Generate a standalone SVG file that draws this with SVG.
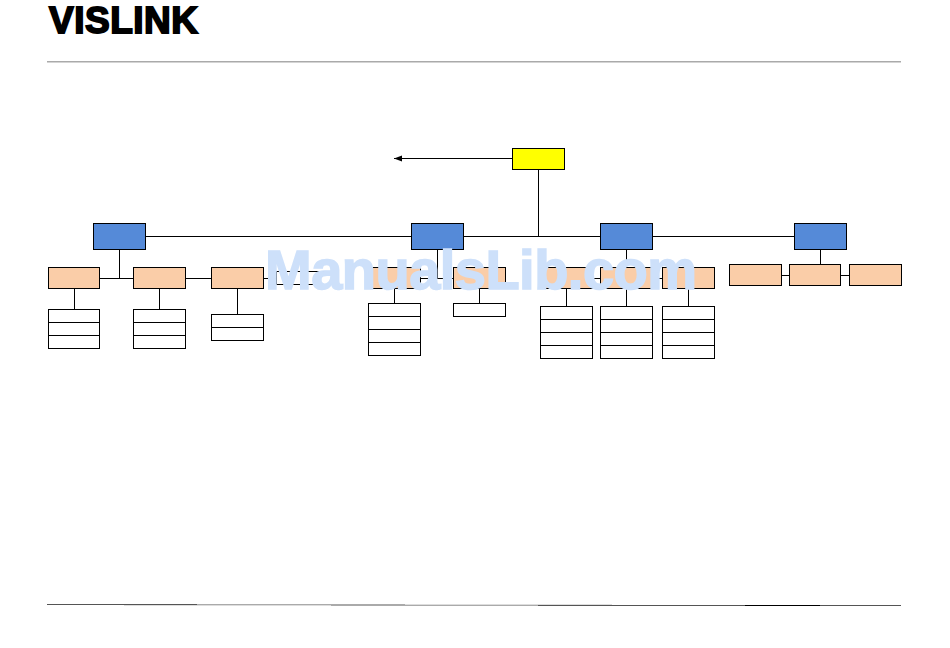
<svg xmlns="http://www.w3.org/2000/svg" width="950" height="648" viewBox="0 0 950 648">
<style>
rect.n{stroke:#000;stroke-width:1}
.top{fill:#ff0}.blue{fill:#558ad8}.or{fill:#facda8}.wh{fill:#fff}
#connectors path{fill:none;stroke:#000;stroke-width:1}
.logo{font-family:"Liberation Sans",Arial,sans-serif;font-weight:700;font-size:37px;fill:#000;stroke:#000;stroke-width:1.800}
.wm{font-family:"Liberation Sans",Arial,sans-serif;font-weight:700;font-size:56px;fill:#cde0fa;stroke:#cde0fa;stroke-width:1.500}
</style>
<defs>
<marker id="ah" markerUnits="userSpaceOnUse" markerWidth="9" markerHeight="7" refX="8" refY="3.5" orient="auto"><path d="M8 0.5L0 3.5L8 6.500Z" fill="#000" transform="rotate(180 4 3.500)"/></marker>
</defs>
<rect width="950" height="648" fill="#fff"/>
<text class="logo" x="49" y="32.500" textLength="149" lengthAdjust="spacing">VISLINK</text>
<rect x="47" y="61" width="854" height="1.500" fill="#aaa"/>
<g id="footer-rule">
<rect x="47" y="604" width="150" height="1" fill="#555"/>
<rect x="197" y="604" width="208" height="1" fill="#aaa"/>
<rect x="405" y="604" width="207" height="1" fill="#ddd"/>
<rect x="124" y="605" width="207" height="1" fill="#ddd"/>
<rect x="331" y="605" width="207" height="1" fill="#aaa"/>
<rect x="538" y="605" width="207" height="1" fill="#555"/>
<rect x="745" y="605" width="75" height="1" fill="#000"/>
<rect x="820" y="605" width="81" height="1" fill="#555"/>
</g>
<g id="connectors">
<path d="M512.500 158.500H394" marker-end="url(#ah)"/>
<path d="M538.500 169.500V236.500"/>
<path d="M145.500 236.500H794.500"/>
<path d="M119.500 249.500V278.500"/>
<path d="M99.500 278.500H133.500M185.500 278.500H211.500M263.500 278.500H276.500"/>
<path d="M327 271.500H276.500V284.500H315"/>
<path d="M74.500 288.500V309.500M159.500 288.500V309.500M237.500 288.500V314.500"/>
<path d="M437.500 249.500V278.500M420.500 278.500H453.500"/>
<path d="M394.500 288.500V303.500M479.500 288.500V303.500"/>
<path d="M626.500 249.500V267.500M592.500 278.500H600.500M652.500 278.500H662.500"/>
<path d="M566.500 288.500V306.500M626.500 288.500V306.500M688.500 288.500V306.500"/>
<path d="M820.500 249.500V264.500M781.500 275.500H789.500M840.500 275.500H849.500"/>
</g>
<g id="root"><rect class="n top" x="512.500" y="148.500" width="52" height="21"/></g>
<g id="blue-1"><rect class="n blue" x="93.500" y="223.500" width="52" height="26"/></g>
<g id="blue-2"><rect class="n blue" x="411.500" y="223.500" width="52" height="26"/></g>
<g id="blue-3"><rect class="n blue" x="600.500" y="223.500" width="52" height="26"/></g>
<g id="blue-4"><rect class="n blue" x="794.500" y="223.500" width="52" height="26"/></g>
<g id="orange-1"><rect class="n or" x="48.500" y="267.500" width="51" height="21"/></g>
<g id="orange-2"><rect class="n or" x="133.500" y="267.500" width="52" height="21"/></g>
<g id="orange-3"><rect class="n or" x="211.500" y="267.500" width="52" height="21"/></g>
<g id="orange-4"><rect class="n or" x="368.500" y="267.500" width="52" height="21"/></g>
<g id="orange-5"><rect class="n or" x="453.500" y="267.500" width="52" height="21"/></g>
<g id="orange-6"><rect class="n or" x="540.500" y="267.500" width="52" height="21"/></g>
<g id="orange-7"><rect class="n or" x="600.500" y="267.500" width="52" height="21"/></g>
<g id="orange-8"><rect class="n or" x="662.500" y="267.500" width="52" height="21"/></g>
<g id="orange-9"><rect class="n or" x="729.500" y="264.500" width="52" height="21"/></g>
<g id="orange-10"><rect class="n or" x="789.500" y="264.500" width="51" height="21"/></g>
<g id="orange-11"><rect class="n or" x="849.500" y="264.500" width="52" height="21"/></g>
<g id="list-1"><rect class="n wh" x="48.500" y="309.500" width="51" height="13"/><rect class="n wh" x="48.500" y="322.500" width="51" height="13"/><rect class="n wh" x="48.500" y="335.500" width="51" height="13"/></g>
<g id="list-2"><rect class="n wh" x="133.500" y="309.500" width="52" height="13"/><rect class="n wh" x="133.500" y="322.500" width="52" height="13"/><rect class="n wh" x="133.500" y="335.500" width="52" height="13"/></g>
<g id="list-3"><rect class="n wh" x="211.500" y="314.500" width="52" height="13"/><rect class="n wh" x="211.500" y="327.500" width="52" height="13"/></g>
<g id="list-4"><rect class="n wh" x="368.500" y="303.500" width="52" height="13"/><rect class="n wh" x="368.500" y="316.500" width="52" height="13"/><rect class="n wh" x="368.500" y="329.500" width="52" height="13"/><rect class="n wh" x="368.500" y="342.500" width="52" height="13"/></g>
<g id="list-5"><rect class="n wh" x="453.500" y="303.500" width="52" height="13"/></g>
<g id="list-6"><rect class="n wh" x="540.500" y="306.500" width="52" height="13"/><rect class="n wh" x="540.500" y="319.500" width="52" height="13"/><rect class="n wh" x="540.500" y="332.500" width="52" height="13"/><rect class="n wh" x="540.500" y="345.500" width="52" height="13"/></g>
<g id="list-7"><rect class="n wh" x="600.500" y="306.500" width="52" height="13"/><rect class="n wh" x="600.500" y="319.500" width="52" height="13"/><rect class="n wh" x="600.500" y="332.500" width="52" height="13"/><rect class="n wh" x="600.500" y="345.500" width="52" height="13"/></g>
<g id="list-8"><rect class="n wh" x="662.500" y="306.500" width="52" height="13"/><rect class="n wh" x="662.500" y="319.500" width="52" height="13"/><rect class="n wh" x="662.500" y="332.500" width="52" height="13"/><rect class="n wh" x="662.500" y="345.500" width="52" height="13"/></g>
<text class="wm" x="265" y="288.500" textLength="432" lengthAdjust="spacing">ManualsLib.com</text>
</svg>
